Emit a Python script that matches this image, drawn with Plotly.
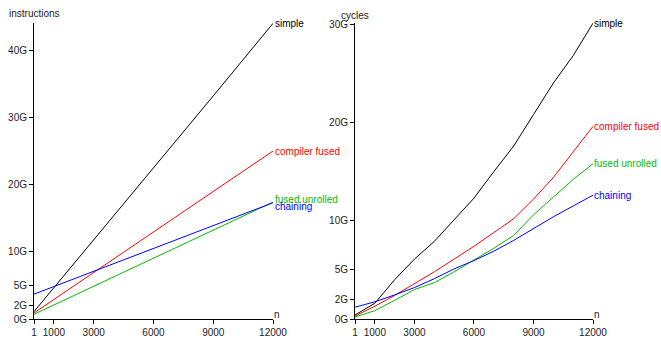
import plotly.graph_objects as go

# ---- data ----
n_instr = [1, 3000, 6000, 9000, 12000]
instr_simple = [1.1, 11.8, 22.4, 33.2, 44.0]
instr_compiler_fused = [0.9, 6.9, 12.9, 19.0, 25.0]
instr_fused_unrolled = [0.7, 4.9, 9.0, 13.2, 17.4]
instr_chaining = [3.7, 7.1, 10.6, 14.0, 17.3]

n_cycles = [1, 1000, 2000, 3000, 4000, 5000, 6000, 7000, 8000, 9000, 10000, 11000, 12000]
cyc_simple = [0.4, 1.6, 4.0, 6.1, 7.9, 10.1, 12.3, 15.0, 17.6, 20.8, 24.0, 26.8, 30.1]
cyc_compiler_fused = [0.3, 1.3, 2.4, 3.6, 4.8, 6.1, 7.4, 8.8, 10.2, 12.2, 14.4, 17.0, 19.6]
cyc_fused_unrolled = [0.2, 0.85, 1.9, 3.0, 3.7, 4.8, 6.0, 7.2, 8.5, 10.6, 12.4, 14.2, 15.8]
cyc_chaining = [1.2, 1.75, 2.45, 3.2, 4.1, 5.1, 5.95, 6.9, 8.0, 9.2, 10.4, 11.5, 12.6]

series_names = ["simple", "compiler fused", "fused unrolled", "chaining"]
colors = ["#000000", "#ff0000", "#00bb00", "#0000ff"]

x_tickvals = [1, 1000, 3000, 6000, 9000, 12000]
x_ticktext = ["1", "1000", "3000", "6000", "9000", "12000"]
y_tickvals_instr = [0, 2, 5, 10, 20, 30, 40]
y_ticktext_instr = ["0G", "2G", "5G", "10G", "20G", "30G", "40G"]
y_tickvals_cyc = [0, 2, 5, 10, 20, 30]
y_ticktext_cyc = ["0G", "2G", "5G", "10G", "20G", "30G"]

W, H = 661, 338
OFF = 0  # body margin removed by post_script
FONT = "Liberation Sans, Arial, Helvetica, sans-serif"
TXT = "#222222"


def px(x):
    return (x - OFF) / W


def py(y):
    return 1 - (y - OFF) / H


fig = go.Figure()

instr = [instr_simple, instr_compiler_fused, instr_fused_unrolled, instr_chaining]
cyc = [cyc_simple, cyc_compiler_fused, cyc_fused_unrolled, cyc_chaining]

annotations = []
label_shift_instr = [0, 0, 3, -4]
for name, c, ys, sh in zip(series_names, colors, instr, label_shift_instr):
    fig.add_trace(go.Scatter(x=n_instr, y=ys, mode="lines", line=dict(color=c, width=1),
                             xaxis="x", yaxis="y", cliponaxis=False, showlegend=False,
                             hoverinfo="skip"))
    annotations.append(dict(x=n_instr[-1], y=ys[-1], xref="x", yref="y", text=name,
                            showarrow=False, xanchor="left", yanchor="middle", xshift=0,
                            yshift=sh, font=dict(color=c, size=10, family=FONT)))
for name, c, ys in zip(series_names, colors, cyc):
    fig.add_trace(go.Scatter(x=n_cycles, y=ys, mode="lines", line=dict(color=c, width=1),
                             xaxis="x2", yaxis="y2", cliponaxis=False, showlegend=False,
                             hoverinfo="skip"))
    annotations.append(dict(x=n_cycles[-1], y=ys[-1], xref="x2", yref="y2", text=name,
                            showarrow=False, xanchor="left", yanchor="middle", xshift=-1,
                            font=dict(color=c, size=10, family=FONT)))

# axis titles
annotations.append(dict(x=px(34), y=py(14), xref="paper", yref="paper", text="instructions",
                        showarrow=False, xanchor="center", yanchor="middle",
                        font=dict(color=TXT, size=10, family=FONT)))
annotations.append(dict(x=px(355), y=py(15), xref="paper", yref="paper", text="cycles",
                        showarrow=False, xanchor="center", yanchor="middle",
                        font=dict(color=TXT, size=10, family=FONT)))
for xr, yr in [("x", "y"), ("x2", "y2")]:
    annotations.append(dict(x=12000, y=0, xref=xr, yref=yr, text="n", showarrow=False,
                            xanchor="left", yanchor="bottom", xshift=-1, yshift=-3,
                            font=dict(color=TXT, size=10, family=FONT)))

axis_common = dict(showline=True, linecolor="#000000", linewidth=1, showgrid=False,
                   zeroline=False, ticks="outside", ticklen=4, tickcolor="#000000",
                   tickwidth=1, automargin=False,
                   tickfont=dict(size=10, family=FONT, color=TXT))

fig.update_layout(
    width=W, height=H, autosize=False,
    margin=dict(l=0, r=0, t=0, b=0, pad=0),
    paper_bgcolor="white", plot_bgcolor="white",
    font=dict(family=FONT, size=10, color=TXT),
    xaxis=dict(domain=[px(34), px(273)], range=[1, 12000], tickvals=x_tickvals,
               ticktext=x_ticktext, anchor="y", **axis_common),
    yaxis=dict(domain=[py(319), py(23)], range=[0, 44.05], tickvals=y_tickvals_instr,
               ticktext=y_ticktext_instr, anchor="x", **axis_common),
    xaxis2=dict(domain=[px(355), px(593)], range=[1, 12000], tickvals=x_tickvals,
                ticktext=x_ticktext, anchor="y2", **axis_common),
    yaxis2=dict(domain=[py(319), py(23)], range=[0, 30.12], tickvals=y_tickvals_cyc,
                ticktext=y_ticktext_cyc, anchor="x2", **axis_common),
    annotations=annotations,
)

fig.write_html("out.html", config={"displayModeBar": False},
               post_script="document.body.style.margin='0';document.body.style.overflow='hidden';")
